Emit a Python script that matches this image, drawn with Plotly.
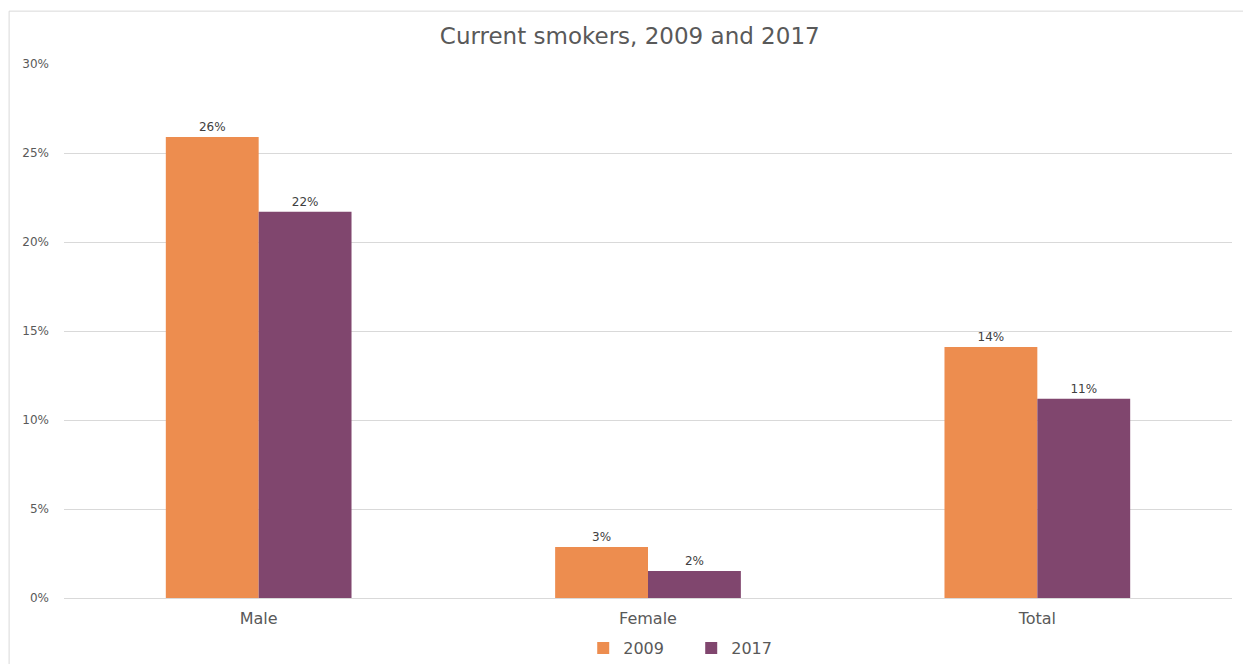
import plotly.graph_objects as go

categories = ["Male", "Female", "Total"]
series_names = ["2009", "2017"]
values_2009 = [0.259, 0.0287, 0.141]
values_2017 = [0.217, 0.0152, 0.112]
labels_2009 = ["26%", "3%", "14%"]
labels_2017 = ["22%", "2%", "11%"]
colors = ["#ED8D4F", "#80466E"]
y_ticks = [0, 0.05, 0.10, 0.15, 0.20, 0.25, 0.30]
y_tick_labels = ["0%", "5%", "10%", "15%", "20%", "25%", "30%"]

FONT = "DejaVu Sans"

fig = go.Figure()
for name, vals, labs, col in zip(series_names, [values_2009, values_2017],
                                 [labels_2009, labels_2017], colors):
    fig.add_trace(go.Bar(
        x=categories, y=vals, name=name, marker_color=col,
        marker_line_width=0,
        text=labs, textposition="outside", cliponaxis=False,
        textfont=dict(size=12, color="#404040", family=FONT),
    ))

fig.update_layout(
    width=1251, height=664,
    paper_bgcolor="white", plot_bgcolor="white",
    margin=dict(l=56, r=27, t=56, b=74, autoexpand=False),
    barmode="group", bargap=0.523, bargroupgap=0,
    title=dict(text="Current smokers, 2009 and 2017", x=0.497, xanchor="center",
               y=0.958, yanchor="middle",
               font=dict(size=23, color="#595959", family=FONT)),
    font=dict(family=FONT, color="#595959"),
    legend=dict(orientation="h", x=0.537, xanchor="center", y=-0.094, yanchor="middle",
                font=dict(size=16, color="#595959", family=FONT), traceorder="normal",
                itemwidth=30, entrywidth=63, entrywidthmode="pixels"),
    showlegend=True,
)
fig.update_xaxes(showgrid=False, showline=True, linecolor="#D9D9D9", linewidth=1,
                 tickfont=dict(size=16, color="#595959", family=FONT), ticks="",
                 ticklabelstandoff=6)
fig.update_yaxes(range=[0, 0.30], tickvals=y_ticks, ticktext=y_tick_labels,
                 showgrid=True, gridcolor="#D9D9D9", gridwidth=1, zeroline=False,
                 tickfont=dict(size=12, color="#595959", family=FONT), ticks="",
                 ticklabelstandoff=14)
fig.add_shape(type="rect", xref="paper", yref="paper",
              x0=-0.047, x1=1.05, y0=-0.2, y1=1.099,
              line=dict(color="#D9D9D9", width=1), fillcolor="rgba(0,0,0,0)", layer="below")
fig.write_html("out.html")
